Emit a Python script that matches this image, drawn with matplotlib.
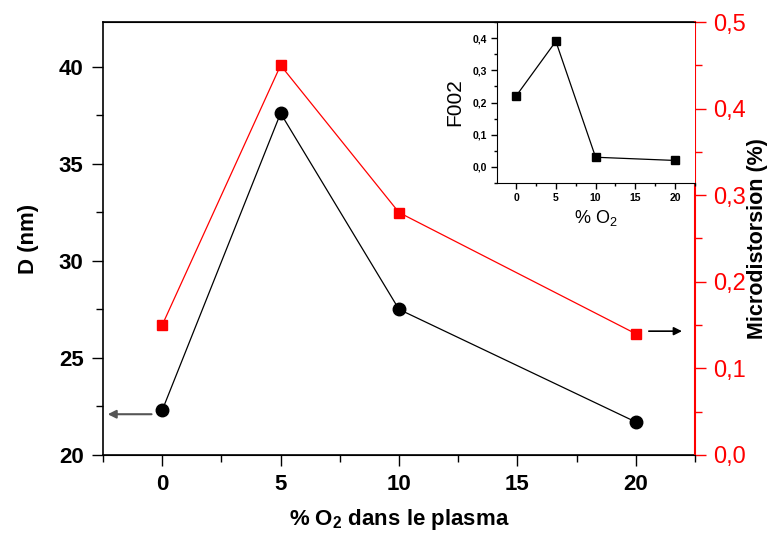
import matplotlib
matplotlib.use("Agg")
import matplotlib.pyplot as plt
from matplotlib.ticker import MultipleLocator, FuncFormatter

plt.rcParams['font.family'] = ['Liberation Sans', 'DejaVu Sans']
plt.rcParams['mathtext.default'] = 'regular'

# ---- data ----
o2_percent = [0, 5, 10, 20]
crystallite_D = [22.3, 37.6, 27.5, 21.7]          # D (nm), left axis
microdistortion = [0.15, 0.45, 0.28, 0.14]        # %, right axis
f002 = [0.22, 0.39, 0.03, 0.02]                   # inset

x_ticks = [0, 5, 10, 15, 20]
left_ticks = [20, 25, 30, 35, 40]
right_ticks = [0.0, 0.1, 0.2, 0.3, 0.4, 0.5]
inset_yticks = [0.0, 0.1, 0.2, 0.3, 0.4]

W, H = 771, 536
fig = plt.figure(figsize=(W / 100, H / 100), dpi=100)

def rect(l, t, r, b):
    return [l / W, 1 - b / H, (r - l) / W, (b - t) / H]

ax = fig.add_axes(rect(103, 22, 695, 455))
ax2 = ax.twinx()

comma = FuncFormatter(lambda v, p: f"{v:.1f}".replace('.', ','))

ax.plot(o2_percent, crystallite_D, color='black', lw=0.9, marker='o', ms=9, zorder=3)
ax2.plot(o2_percent, microdistortion, color='red', lw=0.9, marker='s', ms=7.5,
         markeredgecolor='red', zorder=3)

ax.set_xlim(-2.5, 22.5)
ax.set_ylim(20, 42.3)
ax2.set_ylim(0, 0.5)

ax.set_xticks(x_ticks)
ax.set_yticks(left_ticks)
ax.xaxis.set_minor_locator(MultipleLocator(2.5))
ax.yaxis.set_minor_locator(MultipleLocator(2.5))
ax2.set_yticks(right_ticks)
ax2.yaxis.set_minor_locator(MultipleLocator(0.05))
ax2.yaxis.set_major_formatter(comma)

ax.tick_params(axis='both', which='major', direction='out', length=8, width=1,
               labelsize=16, pad=6)
ax.tick_params(axis='both', which='minor', direction='out', length=5, width=1)
for lab in ax.get_xticklabels() + ax.get_yticklabels():
    lab.set_fontweight('bold')
ax2.tick_params(axis='y', which='major', direction='out', length=8, width=1,
                labelsize=17, colors='red', pad=5)
ax2.tick_params(axis='y', which='minor', direction='out', length=5, width=1, colors='red')

for s in ['left', 'bottom', 'top']:
    ax.spines[s].set_linewidth(1.2)
ax2.spines['right'].set_color('red')
ax2.spines['right'].set_linewidth(1.5)
ax2.spines['left'].set_visible(False)
ax.spines['right'].set_visible(False)

ax.set_xlabel('% O$_2$ dans le plasma', fontsize=16, fontweight='bold', labelpad=8)
ax.set_ylabel('D (nm)', fontsize=16, fontweight='bold', labelpad=14)
ax2.set_ylabel('Microdistorsion (%)', fontsize=15.5, fontweight='bold', labelpad=1)

# arrows indicating axes
ax.annotate('', xy=(-2.3, 22.1), xytext=(-0.45, 22.1),
            arrowprops=dict(arrowstyle='-|>', color='#555555', lw=1.5,
                            mutation_scale=12, shrinkA=0, shrinkB=0))
ax2.annotate('', xy=(21.95, 0.143), xytext=(20.55, 0.143),
             arrowprops=dict(arrowstyle='-|>', color='black', lw=1.2,
                             mutation_scale=12, shrinkA=0, shrinkB=0))

# ---- inset ----
axi = fig.add_axes(rect(497, 22, 695, 183))
axi.plot(o2_percent, f002, color='black', lw=0.9, marker='s', ms=6)
axi.set_xlim(-2.4, 22.5)
axi.set_ylim(-0.05, 0.45)
axi.set_xticks(x_ticks)
axi.set_yticks(inset_yticks)
axi.xaxis.set_minor_locator(MultipleLocator(2.5))
axi.yaxis.set_minor_locator(MultipleLocator(0.05))
axi.yaxis.set_major_formatter(comma)
axi.tick_params(axis='both', which='major', direction='out', length=4, width=1,
                labelsize=7.5, pad=3)
axi.tick_params(axis='both', which='minor', direction='out', length=2.5, width=1)
for lab in axi.get_xticklabels() + axi.get_yticklabels():
    lab.set_fontweight('bold')
axi.spines['right'].set_visible(False)
axi.set_xlabel('% O$_2$', fontsize=13, labelpad=4)
axi.set_ylabel('F002', fontsize=15, labelpad=6)

fig.savefig('out.png', dpi=100)
